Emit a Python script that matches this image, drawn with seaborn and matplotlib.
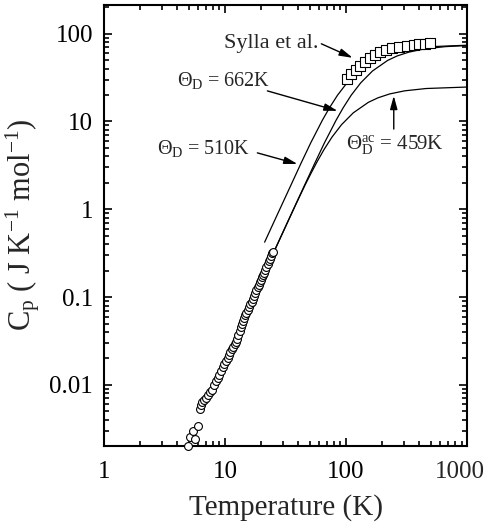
import numpy as np
import pandas as pd
import matplotlib
matplotlib.use("Agg")
import matplotlib.pyplot as plt
import matplotlib.ticker as mticker
import seaborn as sns

# ---- data ----
# low-temperature measurement (circles)
circ_T = [4.94, 5.16, 5.43, 5.68, 5.97,
          6.2, 6.3, 6.5, 6.7, 6.9, 7.2, 7.5, 7.8, 8.1, 8.4, 8.7, 9.0, 9.3, 9.6, 9.9,
          10.2, 10.5, 10.8, 11.1, 11.4, 11.7, 12.0, 12.3, 12.6, 12.9, 13.2, 13.5,
          13.8, 14.1, 14.4, 14.7, 15.0, 15.4, 15.8, 16.2, 16.6, 17.0, 17.4, 17.8,
          18.2, 18.6, 19.0, 19.4, 19.8, 20.2, 20.6, 21.0, 21.5, 22.0, 22.5, 23.0,
          23.5, 24.0, 24.5, 25.0]
circ_Cp = [0.0020, 0.00254, 0.00297, 0.00239, 0.00338,
           0.0053, 0.0059, 0.0063, 0.0068, 0.0071, 0.0076, 0.0082, 0.0088, 0.0099,
           0.0110, 0.0120, 0.0131, 0.0145, 0.0160, 0.0175, 0.0188, 0.0203, 0.0218,
           0.0238, 0.0255, 0.0272, 0.0290, 0.0310, 0.0335, 0.0370, 0.0415, 0.0460,
           0.0500, 0.0540, 0.0585, 0.0630, 0.0665, 0.0715, 0.0770, 0.0830, 0.0890,
           0.0960, 0.1040, 0.1120, 0.1200, 0.1290, 0.1380, 0.1470, 0.1570, 0.1680,
           0.1780, 0.1900, 0.2050, 0.2200, 0.2380, 0.2560, 0.2750, 0.2950, 0.3150,
           0.3300]

# Sylla et al. (squares)
sq_T = [102.5, 110.7, 120.2, 130.4, 142.6, 157, 172.6, 191, 213, 242, 274, 318,
        361, 402, 450, 495]
sq_Cp = [30.4, 34.6, 38.5, 43.0, 47.8, 52.7, 57.5, 61.1, 65.1, 68.5, 70.9, 72.8,
         74.7, 76.1, 76.8, 77.3]

# Debye curves
d510_T = [21.25, 25.5, 34, 42.5, 51, 63.75, 72.9, 85, 102, 127.5, 170, 204, 255,
          340, 510, 1000]
d510_Cp = [0.422, 0.729, 1.72, 3.35, 5.68, 10.33, 14.29, 19.9, 27.6, 37.6, 49.6,
           55.8, 61.7, 67.0, 71.2, 73.9]

d662_T = [26, 33.1, 44.1, 55.2, 66.2, 82.75, 94.6, 110.3, 132.4, 165.5, 220.7,
          264.8, 331, 441, 662, 1000]
d662_Cp = [0.352, 0.729, 1.72, 3.35, 5.68, 10.33, 14.29, 19.9, 27.6, 37.6, 49.6,
           55.8, 61.7, 67.0, 71.2, 73.3]

d459_T = [26, 30.6, 38.25, 45.9, 51, 57.4, 65.6, 76.5, 91.8, 114.75, 153, 183.6,
          229.5, 306, 459, 1000]
d459_Cp = [0.3535, 0.574, 1.117, 1.893, 2.52, 3.44, 4.76, 6.63, 9.20, 12.54, 16.53,
           18.6, 20.6, 22.35, 23.74, 24.68]

x_ticks = [1, 10, 100, 1000]
x_ticklabels = ["1", "10", "100", "1000"]
y_ticks = [0.01, 0.1, 1, 10, 100]
y_ticklabels = ["0.01", "0.1", "1", "10", "100"]

# ---- style ----
sns.set_style("ticks")
plt.rcParams["font.family"] = ["Liberation Serif", "DejaVu Serif"]
plt.rcParams["mathtext.fontset"] = "custom"
plt.rcParams["mathtext.rm"] = "Liberation Serif"
plt.rcParams["mathtext.it"] = "Liberation Serif:italic"
plt.rcParams["mathtext.bf"] = "Liberation Serif:bold"

fig = plt.figure(figsize=(4.85, 5.29), dpi=100)
ax = fig.add_axes([0.2144, 0.1575, 0.963 - 0.2144, 0.9905 - 0.1575])

curves = pd.concat([
    pd.DataFrame({"T": d510_T, "Cp": d510_Cp, "curve": "510"}),
    pd.DataFrame({"T": d662_T, "Cp": d662_Cp, "curve": "662"}),
    pd.DataFrame({"T": d459_T, "Cp": d459_Cp, "curve": "459"}),
])
sns.lineplot(data=curves, x="T", y="Cp", units="curve", estimator=None,
             color="black", lw=0.9, ax=ax, sort=False, legend=False)

circ = pd.DataFrame({"T": circ_T, "Cp": circ_Cp})
sns.scatterplot(data=circ, x="T", y="Cp", marker="o", s=32, facecolor="white",
                edgecolor="black", linewidth=0.8, ax=ax, clip_on=False, zorder=3)

sq = pd.DataFrame({"T": sq_T, "Cp": sq_Cp})
sns.scatterplot(data=sq, x="T", y="Cp", marker="s", s=60, facecolor="white",
                edgecolor="black", linewidth=0.8, ax=ax, zorder=4)

ax.set_xscale("log")
ax.set_yscale("log")
ax.set_xlim(1, 1000)
ax.set_ylim(0.00203, 212)

TICK_FS = 18
XPAD = 11
ax.xaxis.set_major_locator(mticker.FixedLocator(x_ticks))
ax.xaxis.set_major_formatter(mticker.FixedFormatter(x_ticklabels[:-1] + [""]))
ax.yaxis.set_major_locator(mticker.FixedLocator(y_ticks))
ax.yaxis.set_major_formatter(mticker.FixedFormatter(y_ticklabels))
ax.xaxis.set_minor_locator(mticker.LogLocator(base=10, subs=np.arange(2, 10)))
ax.yaxis.set_minor_locator(mticker.LogLocator(base=10, subs=np.arange(2, 10)))
ax.xaxis.set_minor_formatter(mticker.NullFormatter())
ax.yaxis.set_minor_formatter(mticker.NullFormatter())

ax.tick_params(which="both", direction="in", top=True, right=True, width=1.2,
               labelsize=TICK_FS, colors="black")
ax.tick_params(axis="x", which="major", length=6, pad=XPAD)
ax.tick_params(axis="y", which="major", length=6, pad=8)
ax.tick_params(which="minor", length=3.5)
for s in ax.spines.values():
    s.set_linewidth(1.5)
    s.set_color("black")

# last x tick label, nudged left so it stays inside the figure
ax.annotate(x_ticklabels[-1], xy=(x_ticks[-1], 0), xycoords=("data", "axes fraction"),
            xytext=(-5, -XPAD), textcoords="offset points", ha="center", va="top",
            fontsize=TICK_FS)

ax.set_xlabel("Temperature (K)", fontsize=21, labelpad=8)
ax.set_ylabel(r"C$_\mathrm{p}$ ( J K$^{\mathrm{-1}}$ mol$^{\mathrm{-1}}$)", fontsize=22,
              labelpad=5)

akw = dict(arrowstyle="-|>,head_length=0.8,head_width=0.22", color="black", lw=1.0,
           shrinkA=0, shrinkB=0)
ANN_FS = 14.5
# Sylla
ax.text(59.3, 76.7, "Sylla et al.", fontsize=16, ha="right", va="center")
ax.annotate("", xy=(113.5, 53.1), xytext=(62.5, 76.7), arrowprops=akw)
# 662
ax.text(4.03, 29.0, r"$\Theta_\mathrm{D}$ = 662K", fontsize=ANN_FS, ha="left", va="center")
ax.annotate("", xy=(85.2, 13.2), xytext=(22.4, 22.3), arrowprops=akw)
# 510
ax.text(2.75, 4.87, r"$\Theta_\mathrm{D}$ = 510K", fontsize=ANN_FS, ha="left", va="center")
ax.annotate("", xy=(39.7, 3.28), xytext=(18.5, 4.39), arrowprops=akw)
# 459
ax.text(100, 5.3, r"$\Theta_\mathrm{D}^{\mathrm{ac}}$ = 459K", fontsize=ANN_FS + 0.5,
        ha="left", va="center")
ax.annotate("", xy=(248, 19.6), xytext=(248, 8.2), arrowprops=akw)

fig.savefig("out.png", dpi=100)
